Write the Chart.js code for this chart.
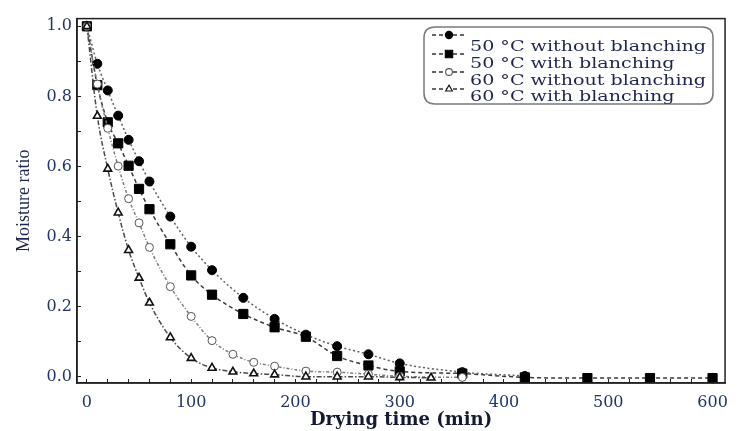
<!DOCTYPE html>
<html>
<head>
<meta charset="utf-8">
<script src="https://cdn.jsdelivr.net/npm/chart.js@4.4.1/dist/chart.umd.min.js"></script>
<style>html,body{margin:0;padding:0;background:#fff;}canvas{display:block;}</style>
</head>
<body>
<canvas id="c" width="742" height="431"></canvas>
<script>
// ---- data ----
const seriesNames = ['50 °C without blanching', '50 °C with blanching', '60 °C without blanching', '60 °C with blanching'];

const time50NoBlanch = [0, 10, 20, 30, 40, 50, 60, 80, 100, 120, 150, 180, 210, 240, 270, 300, 360, 420];
const mr50NoBlanch   = [1.0, 0.893, 0.817, 0.745, 0.676, 0.615, 0.557, 0.457, 0.371, 0.304, 0.225, 0.165, 0.120, 0.087, 0.064, 0.038, 0.013, 0.002];

const time50Blanch = [0, 10, 20, 30, 40, 50, 60, 80, 100, 120, 150, 180, 210, 240, 270, 300, 360, 420, 480, 540, 600];
const mr50Blanch   = [1.0, 0.832, 0.726, 0.666, 0.602, 0.536, 0.478, 0.378, 0.289, 0.234, 0.179, 0.141, 0.114, 0.059, 0.032, 0.015, 0.009, -0.002, -0.004, -0.004, -0.004];

const time60NoBlanch = [0, 10, 20, 30, 40, 50, 60, 80, 100, 120, 140, 160, 180, 210, 240, 270, 300, 360];
const mr60NoBlanch   = [1.0, 0.835, 0.709, 0.601, 0.508, 0.439, 0.369, 0.257, 0.172, 0.103, 0.064, 0.041, 0.030, 0.016, 0.013, 0.007, 0.001, -0.002];

const time60Blanch = [0, 10, 20, 30, 40, 50, 60, 80, 100, 120, 140, 160, 180, 210, 240, 270, 300, 330];
const mr60Blanch   = [1.0, 0.744, 0.593, 0.468, 0.361, 0.282, 0.211, 0.112, 0.053, 0.025, 0.014, 0.009, 0.006, 0.0, 0.0, 0.0, -0.002, -0.003];

const xTickLabels = ['0', '100', '200', '300', '400', '500', '600'];
const yTickLabels = ['0.0', '0.2', '0.4', '0.6', '0.8', '1.0'];
const xAxisTitle = 'Drying time (min)';
const yAxisTitle = 'Moisture ratio';

// ---- helpers ----
const pts = (xs, ys) => xs.map((x, i) => ({x: x, y: ys[i]}));

const styles = [
  {pointStyle: 'circle', radius: 4.5, bg: '#000', bc: '#000', bw: 1, line: '#5f5f5f', dash: [2, 2.5], order: 3},
  {pointStyle: 'rect', radius: 6.5, bg: '#000', bc: '#000', bw: 1, line: '#3a3a3a', dash: [4, 3], order: 4},
  {pointStyle: 'circle', radius: 4, bg: '#fff', bc: '#555', bw: 1, line: '#7a7a7a', dash: [3, 2, 1, 2], order: 2},
  {pointStyle: 'triangle', radius: 4.5, bg: '#fff', bc: '#111', bw: 1.6, line: '#4a4a4a', dash: [5, 2, 1.5, 2], order: 1}
];
const seriesData = [
  pts(time50NoBlanch, mr50NoBlanch),
  pts(time50Blanch, mr50Blanch),
  pts(time60NoBlanch, mr60NoBlanch),
  pts(time60Blanch, mr60Blanch)
];

const datasets = seriesData.map((d, i) => ({
  label: seriesNames[i],
  data: d,
  order: styles[i].order,
  borderColor: styles[i].line,
  borderWidth: 1.5,
  borderDash: styles[i].dash,
  cubicInterpolationMode: 'monotone',
  fill: false,
  pointStyle: styles[i].pointStyle,
  pointRadius: styles[i].radius,
  pointBackgroundColor: styles[i].bg,
  pointBorderColor: styles[i].bc,
  pointBorderWidth: styles[i].bw
}));

const TICK_COLOR = '#22336b';

// frame (top/right)
const framePlugin = {
  id: 'frame',
  afterDraw(chart) {
    const ctx = chart.ctx, a = chart.chartArea;
    ctx.save();
    ctx.strokeStyle = '#222';
    ctx.lineWidth = 1.5;
    ctx.strokeRect(a.left, a.top, a.right - a.left, a.bottom - a.top);
    ctx.restore();
  }
};

function drawMarker(ctx, style, x, y, r) {
  ctx.save();
  ctx.setLineDash([]);
  ctx.fillStyle = style.bg;
  ctx.strokeStyle = style.bc;
  ctx.lineWidth = 1.1;
  Chart.helpers.drawPoint(ctx, {pointStyle: style.pointStyle, rotation: 0, radius: r, borderWidth: 1.1}, x, y);
  ctx.restore();
}

// boxed legend with line + marker samples
const legendPlugin = {
  id: 'boxLegend',
  afterDraw(chart) {
    const ctx = chart.ctx;
    const bx = 424, by = 27, bw = 289, bh = 77, rad = 11;
    ctx.save();
    ctx.beginPath();
    ctx.moveTo(bx + rad, by);
    ctx.lineTo(bx + bw - rad, by);
    ctx.quadraticCurveTo(bx + bw, by, bx + bw, by + rad);
    ctx.lineTo(bx + bw, by + bh - rad);
    ctx.quadraticCurveTo(bx + bw, by + bh, bx + bw - rad, by + bh);
    ctx.lineTo(bx + rad, by + bh);
    ctx.quadraticCurveTo(bx, by + bh, bx, by + bh - rad);
    ctx.lineTo(bx, by + rad);
    ctx.quadraticCurveTo(bx, by, bx + rad, by);
    ctx.closePath();
    ctx.fillStyle = '#fff';
    ctx.fill();
    ctx.strokeStyle = '#7a7a7a';
    ctx.lineWidth = 1.5;
    ctx.stroke();

    const markerY = [35, 54, 72, 89];
    const baseY = [51, 68, 85, 101];
    const legendR = [3.6, 5.2, 3.4, 3.9];
    ctx.font = '15px "DejaVu Serif"';
    const sx = 236 / ctx.measureText(seriesNames[0]).width;
    for (let i = 0; i < 4; i++) {
      ctx.save();
      ctx.strokeStyle = '#333';
      ctx.lineWidth = 1.3;
      ctx.setLineDash([4, 3]);
      ctx.beginPath();
      ctx.moveTo(432, markerY[i]);
      ctx.lineTo(467, markerY[i]);
      ctx.stroke();
      ctx.restore();
      drawMarker(ctx, styles[i], 449, markerY[i], legendR[i]);
      ctx.save();
      ctx.fillStyle = '#1f2550';
      ctx.font = '15px "DejaVu Serif"';
      ctx.textBaseline = 'alphabetic';
      ctx.textAlign = 'left';
      ctx.scale(sx, 1);
      ctx.fillText(seriesNames[i], 470 / sx, baseY[i]);
      ctx.restore();
    }
    ctx.restore();
  }
};

new Chart(document.getElementById('c'), {
  type: 'line',
  data: {datasets: datasets},
  plugins: [framePlugin, legendPlugin],
  options: {
    responsive: false,
    animation: false,
    devicePixelRatio: 1,
    layout: {padding: {top: 6, right: 10, left: 0, bottom: 0}},
    plugins: {legend: {display: false}, tooltip: {enabled: false}, title: {display: false}},
    scales: {
      x: {
        type: 'linear',
        min: -9.5,
        max: 612,
        afterFit(s) { s.height = 48; },
        ticks: {
          stepSize: 20,
          includeBounds: false,
          autoSkip: false,
          maxRotation: 0,
          padding: 14,
          color: TICK_COLOR,
          font: {family: 'DejaVu Serif', size: 16},
          callback(v) {
            const s = String(Math.round(v));
            return (Math.abs(v - Math.round(v)) < 1e-6 && xTickLabels.includes(s)) ? s : '';
          }
        },
        grid: {display: true, drawOnChartArea: false, drawTicks: true, tickLength: -4, color: '#222', lineWidth: 1},
        border: {display: true, color: '#222', width: 1.5},
        title: {
          display: true,
          text: xAxisTitle,
          color: '#141a33',
          font: {family: 'DejaVu Serif', size: 18, weight: 'bold'},
          padding: {top: 0, bottom: 0}
        }
      },
      y: {
        type: 'linear',
        min: -0.018,
        max: 1.022,
        afterFit(s) { s.width = 77; },
        ticks: {
          stepSize: 0.1,
          includeBounds: false,
          autoSkip: false,
          padding: 9,
          color: TICK_COLOR,
          font: {family: 'DejaVu Serif', size: 16},
          callback(v) {
            const s = v.toFixed(1);
            return (Math.abs(v - parseFloat(s)) < 1e-6 && yTickLabels.includes(s)) ? s : '';
          }
        },
        grid: {display: true, drawOnChartArea: false, drawTicks: true, tickLength: -4, color: '#222', lineWidth: 1},
        border: {display: true, color: '#222', width: 1.5},
        title: {
          display: true,
          text: yAxisTitle,
          color: '#1d2550',
          font: {family: 'Liberation Serif', size: 18},
          padding: {top: 13, bottom: 0}
        }
      }
    }
  }
});
</script>
</body>
</html>
